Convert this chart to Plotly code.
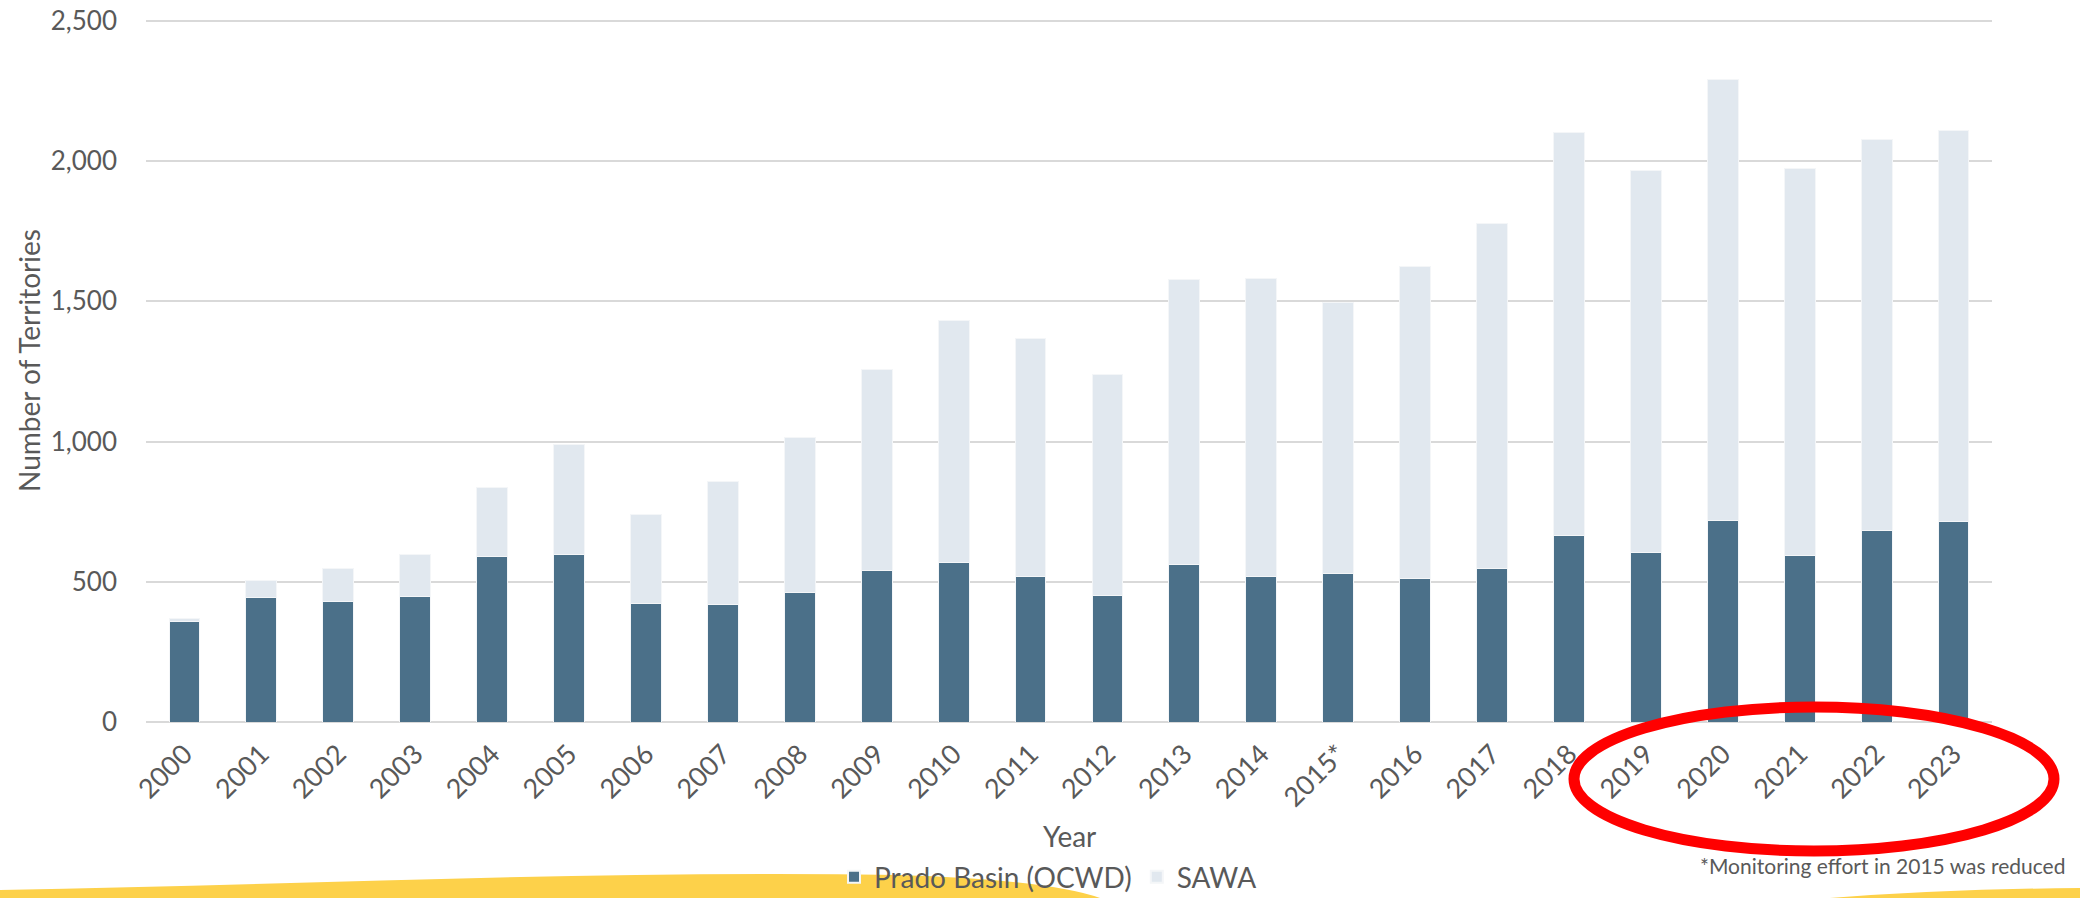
import plotly.graph_objects as go

# Datos
years = ["2000", "2001", "2002", "2003", "2004", "2005", "2006", "2007", "2008", "2009",
         "2010", "2011", "2012", "2013", "2014", "2015*", "2016", "2017", "2018", "2019",
         "2020", "2021", "2022", "2023"]
prado = [357, 443, 429, 447, 590, 598, 424, 420, 462, 540,
         570, 517, 452, 561, 520, 530, 510, 548, 664, 605,
         718, 595, 684, 714]
sawa = [13, 60, 118, 149, 246, 392, 317, 437, 551, 717,
        862, 852, 786, 1017, 1063, 965, 1113, 1231, 1439, 1362,
        1574, 1380, 1392, 1396]
y_ticks = [0, 500, 1000, 1500, 2000, 2500]

W, H = 2080, 898
PLOT_L, PLOT_R, PLOT_T, PLOT_B = 146, 1992, 18, 722   # pixeles del área de la gráfica
FONT = "Lato, 'Open Sans', sans-serif"
GREY = "#595959"


def px(x):
    return (x - PLOT_L) / (PLOT_R - PLOT_L)


def py(y):
    return (PLOT_B - y) / (PLOT_B - PLOT_T)


def path(points):
    # points: lista de (cmd, [(x, y), ...]) en pixeles
    out = []
    for cmd, pts in points:
        out.append(cmd + " ".join(f"{px(a):.4f},{py(b):.4f}" for a, b in pts))
    return " ".join(out) + " Z"


fig = go.Figure()
fig.add_trace(go.Bar(x=years, y=prado, name="Prado Basin (OCWD)",
                     marker=dict(color="#4B7089", line=dict(color="#F4F6F8", width=1))))
fig.add_trace(go.Bar(x=years, y=sawa, name="SAWA",
                     marker=dict(color="#E1E8EF", line=dict(color="#F4F6F8", width=1))))

# Decoración amarilla del fondo
fig.add_shape(type="path", xref="paper", yref="paper", layer="below",
              path=path([("M", [(0, 890)]),
                         ("C", [(300, 885), (600, 870), (900, 875)]),
                         ("Q", [(1050, 880), (1100, 898)]),
                         ("L", [(0, 898)])]),
              fillcolor="#FDD14A", line=dict(width=0))
fig.add_shape(type="path", xref="paper", yref="paper", layer="below",
              path=path([("M", [(1830, 898)]),
                         ("Q", [(1950, 889), (2080, 888)]),
                         ("L", [(2080, 898)])]),
              fillcolor="#FDD14A", line=dict(width=0))

# Elipse roja
fig.add_shape(type="circle", xref="paper", yref="paper",
              x0=px(1574), x1=px(2054), y0=py(851), y1=py(707),
              line=dict(color="#FF0000", width=11))

fig.add_annotation(text="Year", xref="paper", yref="paper", x=px(1069), y=py(836),
                   xanchor="center", yanchor="middle", showarrow=False,
                   font=dict(size=28, color=GREY))
fig.add_annotation(text="Number of Territories", xref="paper", yref="paper",
                   x=px(29), y=py(361), xanchor="center", yanchor="middle",
                   textangle=-90, showarrow=False, font=dict(size=28, color=GREY))
fig.add_annotation(text="*Monitoring effort in 2015 was reduced", xref="paper", yref="paper",
                   x=px(2067), y=py(865), xanchor="right", yanchor="middle",
                   showarrow=False, font=dict(size=21, color=GREY))

fig.update_layout(
    width=W, height=H,
    margin=dict(l=PLOT_L, r=W - PLOT_R, t=PLOT_T, b=H - PLOT_B, autoexpand=False),
    barmode="stack",
    bargap=0.6,
    plot_bgcolor="white",
    paper_bgcolor="white",
    font=dict(family=FONT, size=27, color=GREY),
    showlegend=True,
    legend=dict(orientation="h", x=px(1048), xanchor="center", y=py(877), yanchor="middle",
                font=dict(size=28, color=GREY), traceorder="normal",
                bgcolor="rgba(0,0,0,0)", itemsizing="constant"),
)
fig.update_xaxes(tickangle=-45, showgrid=False, showline=False, ticks="", automargin=False,
                 ticklabelstandoff=10, ticklabeloverflow="allow",
                 tickfont=dict(size=27, color=GREY))
# rango un poco por encima de 2500 para que se dibuje la línea de 2500
fig.update_yaxes(range=[0, 2510], tickvals=y_ticks, tickformat=",", automargin=False,
                 showgrid=True, gridcolor="#D9D9D9", gridwidth=1.5,
                 zeroline=True, zerolinecolor="#D9D9D9", zerolinewidth=1.5,
                 showline=False, ticks="", ticklabelstandoff=28, ticklabeloverflow="allow",
                 tickfont=dict(size=26, color=GREY))

# quitar el margen por defecto del body para que la figura empiece en (0, 0)
fig.write_html("out.html", config={"displayModeBar": False},
               post_script="document.body.style.margin='0';")
